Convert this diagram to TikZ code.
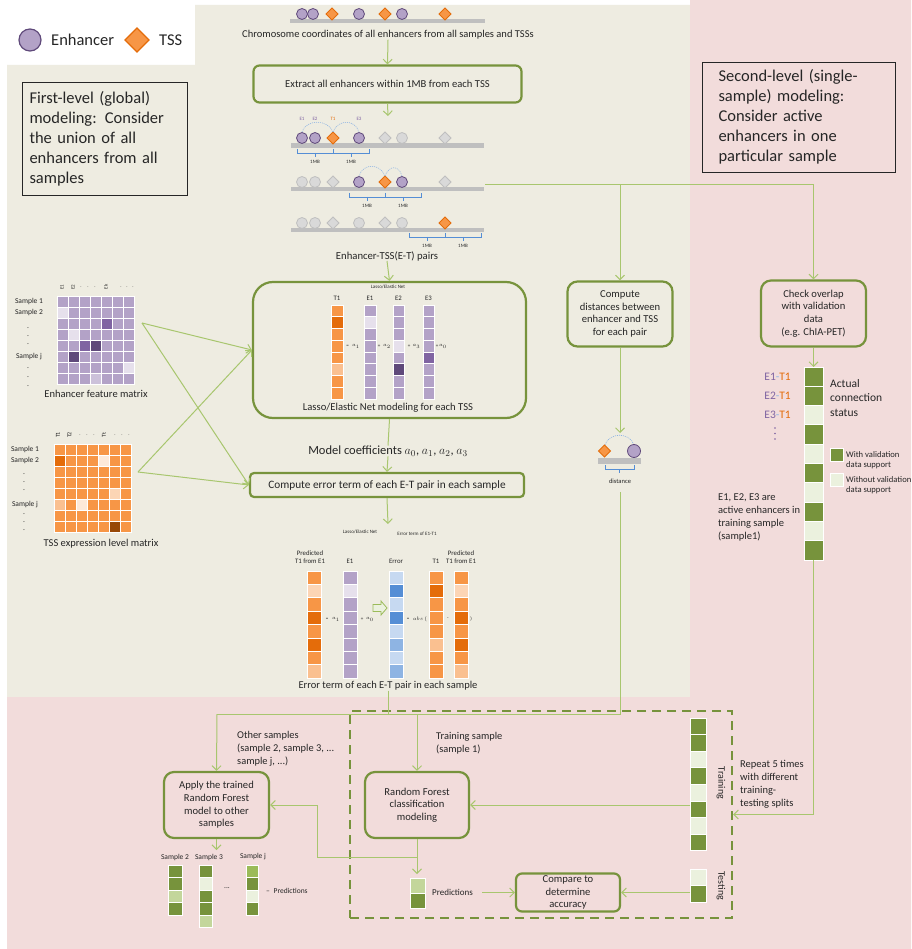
\documentclass[tikz,border=0pt]{standalone}
\usepackage{fontspec}
\setmainfont{Carlito}
\usetikzlibrary{arrows.meta}

\definecolor{ink}{HTML}{262626}
\definecolor{tanbg}{HTML}{EEECE1}
\definecolor{pinkbg}{HTML}{F2DCDB}
\definecolor{boxgreen}{HTML}{77933C}
\definecolor{linkgreen}{HTML}{A8C66E}
\definecolor{puN}{HTML}{B3A2C7}
\definecolor{puL}{HTML}{E6E0EC}
\definecolor{puM}{HTML}{CCC1DA}
\definecolor{puD}{HTML}{8064A2}
\definecolor{puX}{HTML}{5F497A}
\definecolor{puEdge}{HTML}{604A7B}
\definecolor{orN}{HTML}{F79646}
\definecolor{orD}{HTML}{E46C0A}
\definecolor{orL}{HTML}{FAC090}
\definecolor{orM}{HTML}{FCD5B5}
\definecolor{orV}{HTML}{FDE9D9}
\definecolor{orB}{HTML}{984807}
\definecolor{blL}{HTML}{C6D9F1}
\definecolor{blD}{HTML}{558ED5}
\definecolor{blM}{HTML}{8EB4E3}
\definecolor{grN}{HTML}{77933C}
\definecolor{grV}{HTML}{EBF1DE}
\definecolor{grL}{HTML}{C3D69B}
\definecolor{grM}{HTML}{9BBB59}
\definecolor{greyF}{HTML}{D9D9D9}
\definecolor{greyE}{HTML}{BFBFBF}
\definecolor{barGrey}{HTML}{BFBFBF}
\definecolor{arcblue}{HTML}{8EB4E3}
\definecolor{brkblue}{HTML}{558ED5}

% enhancer circle and TSS diamond glyphs
\newcommand\enhdot[3][enh]{\draw[#1] (#2,#3) circle[radius=5.5];}
\newcommand\tssdia[3][tss]{\draw[#1] (#2-6,#3) -- (#2,#3-6) -- (#2+6,#3) -- (#2,#3+6) -- cycle;}
% chromosome bar
\newcommand\chrbar[1]{\fill[barGrey] (291,#1) rectangle (484,#1+4.5);}
% two 1MB brackets around a TSS: left end, TSS, right end, baseline
\newcommand\mbbracket[4]{%
  \draw[brk] (#1,#4-4) -- (#1,#4) -- (#3,#4) -- (#3,#4-4) (#2,#4-4) -- (#2,#4);
  \draw[brk] ({(#1+#2)/2},#4) -- ++(0,4) ({(#2+#3)/2},#4) -- ++(0,4);
  \node[tinylbl] at ({(#1+#2)/2},#4+9) {1MB};
  \node[tinylbl] at ({(#2+#3)/2},#4+9) {1MB};}
% a vertical column of coloured cells: x, top, width, height, colours
\newcommand\colcells[5]{%
  \foreach \cellc [count=\ii from 0] in {#5}{%
    \fill[\cellc, draw=white, line width=0.9pt] (#1,{#2+\ii*#4}) rectangle ++(#3,#4);}}
% a matrix of coloured cells: x, top, width, height, rows
\newcommand\gridcells[5]{%
  \foreach \rowlist [count=\rr from 0] in {#5}{%
    \foreach \cellc [count=\kk from 0] in \rowlist {%
      \fill[\cellc, draw=white, line width=0.9pt] ({#1+\kk*#3},{#2+\rr*#4}) rectangle ++(#3,#4);}}}

\begin{document}
\begin{tikzpicture}[x=1pt,y=-1pt,
  flowbox/.style={draw=boxgreen, line width=2.2pt, rounded corners=9pt, align=center,
    text=ink, inner sep=0pt, font=\fontsize{10.6}{12.7}\selectfont},
  flow/.style={draw=linkgreen, line width=1pt, -{Straight Barb[length=4.5pt,width=9pt]}},
  link/.style={draw=linkgreen, line width=1pt},
  note/.style={draw=ink, line width=0.9pt, align=left, text=ink, inner sep=0pt,
    font=\fontsize{16.5}{20}\selectfont},
  lbl/.style={text=ink, inner sep=0pt, align=center},
  tinylbl/.style={text=ink, inner sep=0pt, font=\fontsize{5}{6}\selectfont},
  hdr/.style={text=ink, inner sep=0pt, align=center, font=\fontsize{6.8}{8}\selectfont},
  rowlbl/.style={text=ink, inner sep=0pt, font=\fontsize{7.5}{8}\selectfont},
  enh/.style={fill=puN, draw=puEdge, line width=0.8pt},
  tss/.style={fill=orN, draw=orD, line width=0.8pt},
  genh/.style={fill=greyF, draw=greyE, line width=0.8pt},
  arcdot/.style={draw=arcblue, line width=0.6pt, dash pattern=on 1pt off 1pt},
  brk/.style={draw=brkblue, line width=0.8pt},
]
\useasboundingbox (0,0) rectangle (911,949);
\fill[white] (0,0) rectangle (911,949);

% background panels
\fill[tanbg] (195,5) -- (690,5) -- (690,697) -- (7,697) -- (7,65) -- (195,65) -- cycle;
\fill[pinkbg] (690,0) -- (911,0) -- (911,949) -- (7,949) -- (7,697) -- (690,697) -- cycle;

% legend
\draw[enh, line width=1.2pt] (30,40) circle[radius=11];
\node[lbl, anchor=west, font=\fontsize{16.5}{20}\selectfont] at (51,40) {Enhancer};
\draw[tss, line width=1.2pt] (125,40) -- (137,28) -- (149,40) -- (137,52) -- cycle;
\node[lbl, anchor=west, font=\fontsize{16.5}{20}\selectfont] at (159,40) {TSS};

% level notes
\node[note, minimum width=165pt, minimum height=113pt, text width=150pt] (first) at (104.5,138.5)
  {First-level (global)\\modeling: Consider\\the union of all\\enhancers from all\\samples};
\node[note, minimum width=193pt, minimum height=110pt, text width=160pt] (second) at (798.5,117)
  {Second-level (single-\\sample) modeling:\\Consider active\\enhancers in one\\particular sample};

% all enhancers and TSSs on the chromosome
\fill[barGrey] (290,19.5) rectangle (485,23.5);
\enhdot{302}{14}\enhdot{313}{14}\tssdia{332}{14}\enhdot{359}{14}\tssdia{385}{14}\enhdot{402}{14}\tssdia{445}{14}
\node[lbl, font=\fontsize{10.5}{12}\selectfont] (chromtxt) at (388,35)
  {Chromosome coordinates of all enhancers from all samples and TSSs};

\node[flowbox, minimum width=268pt, minimum height=37pt, rounded corners=6pt] (extract) at (387.5,84)
  {Extract all enhancers within 1MB from each TSS};
\draw[flow] (chromtxt.south) -- (extract.north);
\coordinate (chrA) at (388,116);
\draw[flow] (extract.south) -- (chrA);

% E-T pairs, first TSS
\chrbar{143.5}
\enhdot{302}{138}\enhdot{315}{138}\tssdia{333}{138}\enhdot{359}{138}
\tssdia[genh]{385}{138}\enhdot[genh]{402}{138}\tssdia[genh]{445}{138}
\node[tinylbl, text=puD] at (302,119) {E1};
\node[tinylbl, text=puD] at (315,119) {E2};
\node[tinylbl, text=orD] at (333,119) {T1};
\node[tinylbl, text=puD] at (359,119) {E3};
\draw[arcdot] (333,132) .. controls (328,119) and (306,119) .. (302,132);
\draw[arcdot] (333,132) .. controls (338,119) and (355,119) .. (359,132);
\mbbracket{297}{333}{369}{153}

% second TSS
\chrbar{187}
\enhdot[genh]{302}{182}\enhdot[genh]{315}{182}\tssdia[genh]{333}{182}
\enhdot{359}{182}\tssdia{385}{182}\enhdot{402}{182}\tssdia[genh]{445}{182}
\draw[arcdot] (385,176) .. controls (380,163) and (363,163) .. (359,176);
\draw[arcdot] (385,176) .. controls (389,165) and (399,165) .. (402,176);
\mbbracket{349}{385}{421}{197}

% third TSS
\chrbar{228}
\enhdot[genh]{302}{223}\enhdot[genh]{315}{223}\tssdia[genh]{333}{223}
\enhdot[genh]{359}{223}\tssdia[genh]{385}{223}\enhdot[genh]{402}{223}\tssdia{445}{223}
\mbbracket{409}{445}{481}{237}
\node[lbl, font=\fontsize{10.7}{12}\selectfont] (pairs) at (387,256) {Enhancer-TSS(E-T) pairs};

% enhancer feature matrix
\gridcells{57}{296}{11.1}{11.1}{
  {puN,puN,puN,puN,puN,puN,puN},
  {puL,puN,puN,puN,puN,puN,puN},
  {puN,puN,puN,puN,puD,puN,puN},
  {puN,puL,puN,puN,puN,puN,puN},
  {puN,puN,puD,puX,puN,puN,puN},
  {puN,puX,puN,puN,puN,puN,puN},
  {puN,puN,puN,puN,puN,puN,puL},
  {puN,puN,puN,puM,puN,puN,puN}}
\node[tinylbl, rotate=90] at (62,287) {E1};
\node[tinylbl, rotate=90] at (73,287) {E2};
\node[tinylbl, rotate=90] at (106,287) {Ek};
\foreach \hx in {81,88,95,121,127,133} \node[tinylbl] at (\hx,287) {.};
\node[rowlbl] at (29,301.5) {Sample 1};
\node[rowlbl] at (29,312.5) {Sample 2};
\node[rowlbl] at (29,357) {Sample j};
\foreach \dy in {328,336,344,368,377,386} \node[rowlbl] at (28,\dy) {.};
\node[lbl, font=\fontsize{10.5}{12}\selectfont] (encmat) at (96,394) {Enhancer feature matrix};

% TSS expression level matrix
\gridcells{54}{444}{11}{11}{
  {orN,orN,orN,orN,orN,orN,orN},
  {orD,orN,orN,orN,orV,orN,orN},
  {orN,orN,orN,orN,orN,orN,orN},
  {orN,orN,orN,orN,orN,orN,orN},
  {orN,orN,orN,orN,orN,orM,orN},
  {orL,orN,orV,orN,orN,orN,orN},
  {orN,orN,orN,orN,orN,orN,orN},
  {orN,orN,orN,orN,orN,orB,orN}}
\node[tinylbl, rotate=90, font=\fontsize{6}{7}\selectfont] at (58,435) {T1};
\node[tinylbl, rotate=90, font=\fontsize{6}{7}\selectfont] at (69.5,435) {T2};
\node[tinylbl, rotate=90, font=\fontsize{6}{7}\selectfont] at (104,435) {Tt};
\foreach \hx in {80,87,94,115,122,129} \node[tinylbl] at (\hx,435) {.};
\node[rowlbl] at (25,449.5) {Sample 1};
\node[rowlbl] at (25,460.5) {Sample 2};
\node[rowlbl] at (25,505) {Sample j};
\foreach \dy in {474,482,490,514,522,530} \node[rowlbl] at (24,\dy) {.};
\node[lbl, font=\fontsize{10.5}{12}\selectfont] (tssmat) at (101,544) {TSS expression level matrix};

% Lasso / Elastic Net modeling
\node[flowbox, minimum width=273pt, minimum height=136pt, rounded corners=20pt] (lasso) at (389.5,350) {};
\draw[flow] (pairs.south) -- (lasso.north);
\node[tinylbl] at (388,287) {Lasso/Elastic Net};
\node[hdr] at (337,298) {T1};
\node[hdr] at (370,298) {E1};
\node[hdr] at (398.5,298) {E2};
\node[hdr] at (428.5,298) {E3};
\colcells{331}{305}{12}{11.75}{orN,orD,orN,orN,orN,orL,orN,orN}
\colcells{364}{305}{12}{11.75}{puN,puL,puN,puN,puN,puN,puN,puN}
\colcells{393}{305}{11.5}{11.75}{puN,puN,puN,puL,puN,puX,puN,puN}
\colcells{423}{305}{11.5}{11.75}{puN,puN,puN,puN,puD,puN,puN,puN}
\node[tinylbl] at (347.5,346) {=};
\node[tinylbl] at (356,346.5) {$a_1$};
\node[tinylbl] at (379,346) {+};
\node[tinylbl] at (387,346.5) {$a_2$};
\node[tinylbl] at (409,346) {+};
\node[tinylbl] at (416.5,346.5) {$a_3$};
\node[tinylbl] at (437,346) {+};
\node[tinylbl] at (443,346.5) {$a_0$};
\node[lbl, font=\fontsize{10.6}{12}\selectfont] at (388,408) {Lasso/Elastic Net modeling for each TSS};

\node[lbl, font=\fontsize{12.5}{14}\selectfont] (coef) at (388,451)
  {Model coefficients $a_0$, $a_1$, $a_2$, $a_3$};
\draw[link] (lasso.south) -- (coef.north);

\node[flowbox, minimum width=274pt, minimum height=24pt, rounded corners=4pt,
  font=\fontsize{11.3}{13}\selectfont] (errbox) at (387,485)
  {Compute error term of each E-T pair in each sample};
\draw[flow] (coef.south) -- (errbox.north);
\coordinate (errA) at (388,524);
\draw[flow] (errbox.south) -- (errA);

% matrices feed the modeling and the error computation
\coordinate (encTip) at (142,323);
\coordinate (tssTip) at (138,472);
\draw[flow] (encTip) -- (lasso.west);
\draw[flow] (encTip) -- (errbox.west);
\draw[flow] (tssTip) -- (lasso.west);
\draw[flow] (tssTip) -- (errbox.west);

% error term of E1-T1
\node[tinylbl] at (360,532) {Lasso/Elastic Net};
\node[tinylbl] at (417,534) {Error term of E1-T1};
\node[hdr] at (310,557) {Predicted\\T1 from E1};
\node[hdr] at (350,561) {E1};
\node[hdr] at (396,561) {Error};
\node[hdr] at (436,561) {T1};
\node[hdr] at (461,557) {Predicted\\T1 from E1};
\colcells{307}{571}{14}{13.4}{orN,orM,orN,orD,orN,orD,orN,orL}
\colcells{343}{571}{14}{13.4}{puN,puL,puN,puN,puN,puN,puN,puN}
\colcells{389}{571}{14}{13.4}{blL,blD,blL,blD,blL,blM,blL,blM}
\colcells{429}{571}{14}{13.4}{orN,orD,orN,orN,orN,orL,orN,orN}
\colcells{454}{571}{14}{13.4}{orN,orM,orN,orD,orN,orD,orN,orL}
\node[tinylbl] at (327,619) {=};
\node[tinylbl] at (336,619.5) {$a_1$};
\node[tinylbl] at (362,619) {+};
\node[tinylbl] at (370,619.5) {$a_0$};
\draw[draw=grM, fill=grV, line width=0.8pt] (373,604.5) -- (381,604.5) -- (381,601) -- (387,608)
  -- (381,615) -- (381,611.5) -- (373,611.5) -- cycle;
\node[tinylbl] at (408,619) {=};
\node[tinylbl] at (420,619) {$abs\,($};
\node[tinylbl] at (448,619) {-};
\node[tinylbl] at (471,619) {)};
\node[lbl, font=\fontsize{10.5}{12}\selectfont] (errtxt) at (388,686) {Error term of each E-T pair in each sample};

% distance between enhancer and TSS
\node[flowbox, minimum width=105pt, minimum height=65pt, rounded corners=10pt] (dist) at (620,314)
  {Compute\\distances between\\enhancer and TSS\\for each pair};
\node[flowbox, minimum width=105pt, minimum height=66pt, rounded corners=10pt] (check) at (813.5,313.5)
  {Check overlap\\with validation\\data\\(e.g. ChIA-PET)};
\coordinate (chr2R) at (485,185);
\coordinate (jDist) at (620,185);
\coordinate (jCheck) at (813.5,185);
\draw[link] (chr2R) -- (jCheck);
\draw[flow] (jDist) -- (dist.north);
\draw[flow] (jCheck) -- (check.north);
\coordinate (distA) at (620,433);
\draw[flow] (dist.south) -- (distA);
\draw[arcdot] (605,445) .. controls (609,432) and (630,432) .. (634,445);
\tssdia{604.5}{451}
\draw[enh] (634,451) circle[radius=6.5];
\fill[barGrey] (598,458) rectangle (641,463.5);
\draw[brk] (605,465) -- (605,469) -- (634,469) -- (634,465) (619.5,469) -- (619.5,473);
\node[tinylbl, font=\fontsize{6.5}{7}\selectfont] (distlbl) at (620,481) {distance};

% actual connection status
\coordinate (statusTop) at (813.5,367);
\draw[flow] (check.south) -- (statusTop);
\colcells{804}{367}{19}{19.3}{grN,grN,grV,grN,grV,grN,grV,grN,grV,grN}
\coordinate (statusBot) at (813.5,560);
\node[anchor=east, inner sep=0pt, font=\fontsize{11.5}{13}\selectfont] at (791,377)
  {\textcolor{puD}{E1}\textcolor{blM}{-}\textcolor{orD}{T1}};
\node[anchor=east, inner sep=0pt, font=\fontsize{11.5}{13}\selectfont] at (791,396)
  {\textcolor{puD}{E2}\textcolor{blM}{-}\textcolor{orD}{T1}};
\node[anchor=east, inner sep=0pt, font=\fontsize{11.5}{13}\selectfont] at (791,415)
  {\textcolor{puD}{E3}\textcolor{blM}{-}\textcolor{orD}{T1}};
\foreach \dy in {428,433.5,439} \fill[puD] (775,\dy) circle[radius=0.9];
\node[lbl, align=left, anchor=west, font=\fontsize{11.5}{14.5}\selectfont] at (830,398)
  {Actual\\connection\\status};
\fill[grN, draw=white, line width=0.9pt] (830,448) rectangle (843,461);
\fill[grV, draw=white, line width=0.9pt] (830,473) rectangle (843,486);
\node[lbl, align=left, anchor=west, font=\fontsize{8.6}{10}\selectfont] at (846,460)
  {With validation\\data support};
\node[lbl, align=left, anchor=west, font=\fontsize{8.6}{10}\selectfont] at (846,485)
  {Without validation\\data support};
\node[lbl, align=left, anchor=west, font=\fontsize{10.5}{13}\selectfont] at (718,517.5)
  {E1, E2, E3  are\\active enhancers in\\training sample\\(sample1)};

% cross-validation frame
\node[draw=boxgreen, line width=2.2pt, dash pattern=on 9pt off 6pt, minimum width=382pt,
  minimum height=207pt, inner sep=0pt] (cv) at (541,814.5) {};
\draw[flow] (statusBot) |- (cv.east);
\node[lbl, align=left, anchor=west, font=\fontsize{10.5}{13}\selectfont] at (740,784.5)
  {Repeat 5 times\\with different\\training-\\testing splits};

% routing of the error terms and distances to the classifiers
\coordinate (distB) at (620,492);
\coordinate (busL) at (217,714);
\coordinate (busE) at (388,714);
\coordinate (busRF) at (417,714);
\coordinate (busR) at (620,714);
\draw[link] (errtxt.south) -- (busE);
\draw[link] (distB) -- (busR) -- (busL);

\node[flowbox, minimum width=104pt, minimum height=66pt, rounded corners=10pt] (rf) at (417,805)
  {Random Forest\\classification\\modeling};
\node[flowbox, minimum width=105pt, minimum height=66pt, rounded corners=10pt] (apply) at (216.5,805)
  {Apply the trained\\Random Forest\\model to other\\samples};
\node[flowbox, minimum width=104pt, minimum height=38pt, rounded corners=6pt,
  font=\fontsize{10.6}{12.5}\selectfont] (compare) at (568,892.5)
  {Compare to\\determine\\accuracy};
\draw[flow] (busL) -- (apply.north);
\draw[flow] (busRF) -- (rf.north);
\node[lbl, align=left, anchor=west, font=\fontsize{10.4}{13}\selectfont] at (237,749)
  {Other samples\\(sample 2, sample 3,  ...\\sample j, ...)};
\node[lbl, align=left, anchor=west, font=\fontsize{10.4}{12.5}\selectfont] at (436,743)
  {Training sample\\(sample 1)};

% training and testing splits
\colcells{690}{718}{16}{16.6}{grN,grN,grV,grN,grV,grN,grV,grN}
\colcells{690}{869}{16}{16.5}{grV,grN}
\node[lbl, rotate=-90, font=\fontsize{10}{11}\selectfont] at (721,783) {Training};
\node[lbl, rotate=-90, font=\fontsize{10}{11}\selectfont] at (721,886) {Testing};
\coordinate (trainL) at (690,805);
\coordinate (testL) at (690,892.5);
\draw[flow] (trainL) -- (rf.east);
\draw[flow] (testL) -- (compare.east);

% predictions on the training sample
\coordinate (predTop) at (417,874);
\draw[flow] (rf.south) -- (predTop);
\colcells{410}{878}{15}{15}{grL,grN}
\node[lbl, anchor=west, font=\fontsize{9}{10}\selectfont] (predlbl) at (432,892) {Predictions};
\coordinate (predOut) at (482,892.5);
\draw[flow] (predOut) -- (compare.west);
\coordinate (rfTap) at (417,857);
\draw[flow] (rfTap) -- ++(-100,0) |- (apply.east);

% predictions on the other samples
\coordinate (applyOut) at (216.5,850);
\draw[flow] (apply.south) -- (applyOut);
\node[lbl, font=\fontsize{7.5}{8}\selectfont] at (175,857) {Sample 2};
\node[lbl, font=\fontsize{7.5}{8}\selectfont] at (209,857) {Sample 3};
\node[lbl, font=\fontsize{7.5}{8}\selectfont] at (253,857) {Sample j};
\colcells{168}{865}{14}{12.5}{grN,grN,grL,grN}
\colcells{199}{865}{13}{12.5}{grN,grV,grN,grN,grL}
\colcells{246}{865}{12}{12.5}{grM,grN,grV,grN}
\node[lbl, font=\fontsize{7.5}{8}\selectfont] at (227,888) {...};
\node[lbl, anchor=west, font=\fontsize{7.5}{9}\selectfont] at (266,891) {--\,\,\,Predictions};

\end{tikzpicture}
\end{document}
